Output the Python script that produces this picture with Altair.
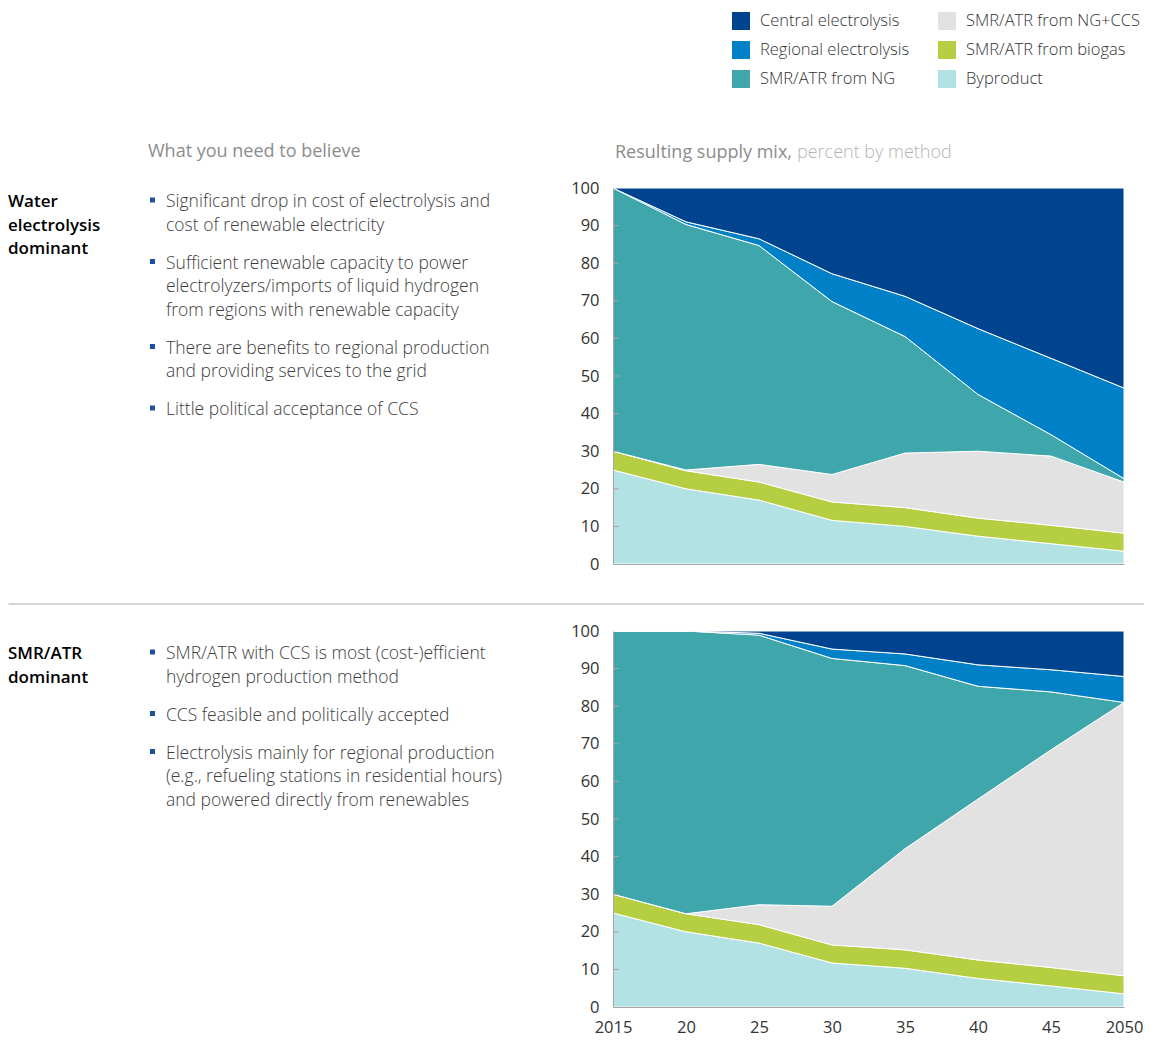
import altair as alt
import pandas as pd

# ---------------- data ----------------
years = [2015, 2020, 2025, 2030, 2035, 2040, 2045, 2050]
x_tick_labels = ["2015", "20", "25", "30", "35", "40", "45", "2050"]
y_ticks = [0, 10, 20, 30, 40, 50, 60, 70, 80, 90, 100]

# legend order (filled column by column, 2 columns)
legend_order = [
    "Central electrolysis", "Regional electrolysis", "SMR/ATR from NG",
    "SMR/ATR from NG+CCS", "SMR/ATR from biogas", "Byproduct",
]
legend_colors = ["#00448F", "#0080C6", "#3FA7AB", "#E2E2E2", "#B6CE42", "#B3E2E4"]
# stacking order, bottom to top
stack_order = [
    "Byproduct", "SMR/ATR from biogas", "SMR/ATR from NG+CCS",
    "SMR/ATR from NG", "Regional electrolysis", "Central electrolysis",
]

# Scenario 1: water electrolysis dominant (percent)
water_byproduct = [25, 20, 17, 11.6, 10, 7.4, 5.4, 3.4]
water_biogas = [5, 4.8, 4.8, 4.9, 5, 4.8, 4.9, 4.8]
water_ngccs = [0, 0.2, 4.7, 7.3, 14.5, 17.8, 18.4, 13.6]
water_ng = [70, 65.3, 58.2, 46, 31, 15.1, 5.7, 0.9]
water_regional = [0, 0.7, 1.8, 7.4, 10.7, 17.5, 20.3, 24.1]
water_central = [0, 9, 13.5, 22.8, 28.8, 37.4, 45.3, 53.2]

# Scenario 2: SMR/ATR dominant (percent)
smr_byproduct = [25, 20, 17, 11.7, 10.3, 7.6, 5.6, 3.5]
smr_biogas = [5, 4.8, 4.9, 4.8, 4.9, 4.9, 4.9, 4.8]
smr_ngccs = [0, 0, 5.3, 10.3, 26.9, 42.8, 57.9, 72.7]
smr_ng = [70, 75.2, 71.7, 65.9, 48.7, 30, 15.4, 0]
smr_regional = [0, 0, 0.5, 2.5, 3.1, 5.7, 5.9, 6.9]
smr_central = [0, 0, 0.6, 4.8, 6.1, 9.0, 10.3, 12.1]

header_left = "What you need to believe"
header_right_main = "Resulting supply mix,"
header_right_sub = "percent by method"

water_label = ["Water", "electrolysis", "dominant"]
water_bullets = [
    ["Significant drop in cost of electrolysis and", "cost of renewable electricity"],
    ["Sufficient renewable capacity to power",
     "electrolyzers/imports of liquid hydrogen",
     "from regions with renewable capacity"],
    ["There are benefits to regional production", "and providing services to the grid"],
    ["Little political acceptance of CCS"],
]
smr_label = ["SMR/ATR", "dominant"]
smr_bullets = [
    ["SMR/ATR with CCS is most (cost-)efficient", "hydrogen production method"],
    ["CCS feasible and politically accepted"],
    ["Electrolysis mainly for regional  production",
     "(e.g., refueling stations in residential hours)",
     "and powered directly from renewables"],
]

# ---------------- style / layout ----------------
FONT = "Open Sans"
PLOT_W, PLOT_H = 511, 376
SPACING = 67
AXIS_GREY = "#a6a6a6"
LINE_H = 23.5
BULLET_GAP = 14.5
TEXT_X = -447
BULLET_X = -460.5
LABEL_X = -605

label_expr = " : ".join(
    f"datum.value == {y} ? '{l}'" for y, l in zip(years, x_tick_labels)
) + " : ''"


def long_df(series):
    rows = []
    for name, vals in series.items():
        for yr, v in zip(years, vals):
            rows.append({"year": yr, "method": name, "share": v,
                         "rank": stack_order.index(name)})
    return pd.DataFrame(rows)


def text_layer(lines, x, y, size=17.5, color="#3d3d3d", weight=300):
    props = dict(align="left", baseline="alphabetic", font=FONT,
                 fontSize=size, fontWeight=weight, color=color)
    if len(lines) > 1:
        props.update(lineBreak="\n", lineHeight=LINE_H)
    return alt.Chart(pd.DataFrame({"t": ["\n".join(lines)]})).mark_text(**props).encode(
        text="t:N", x=alt.value(x), y=alt.value(y)
    )


def y_axis():
    return alt.Axis(values=y_ticks, ticks=False, labelPadding=14, title=None,
                    domainColor=AXIS_GREY, zindex=1, labelFontSize=16.5,
                    labelFont=FONT, labelColor="#333333", grid=False)


def panel(series, label, bullets, top, first_baseline):
    df = long_df(series)
    if top:
        xaxis = alt.Axis(values=years, labels=False, ticks=False, title=None,
                         domainColor=AXIS_GREY, zindex=1, grid=False)
        legend = alt.Legend(orient="none", legendX=119, legendY=-176, columns=2,
                            title=None, symbolType="square", symbolSize=324,
                            symbolStrokeWidth=0, symbolOpacity=1, labelFontSize=16.5,
                            labelFont=FONT, labelFontWeight=300, labelColor="#333333",
                            labelOffset=10, labelLimit=400, rowPadding=11,
                            columnPadding=28, padding=0)
    else:
        xaxis = alt.Axis(values=years, labelExpr=label_expr, labelFlush=False,
                         ticks=False, labelPadding=12, title=None, labelFontSize=16.5,
                         labelFont=FONT, labelColor="#333333", labelOverlap=False,
                         domainColor=AXIS_GREY, zindex=1, grid=False)
        legend = None

    area = alt.Chart(df).mark_area(stroke="white", strokeWidth=1).encode(
        x=alt.X("year:Q", scale=alt.Scale(domain=[2015, 2050], nice=False, zero=False),
                axis=xaxis),
        y=alt.Y("share:Q", stack="zero", scale=alt.Scale(domain=[0, 100], nice=False),
                axis=y_axis()),
        color=alt.Color("method:N", scale=alt.Scale(domain=legend_order, range=legend_colors),
                        legend=legend),
        order=alt.Order("rank:Q", sort="ascending"),
    )
    inner_ticks = alt.Chart(pd.DataFrame({"v": y_ticks[1:-1]})).mark_rule(
        color=AXIS_GREY, strokeWidth=1
    ).encode(y=alt.Y("v:Q", axis=y_axis()), x=alt.value(0), x2=alt.value(6))

    layers = [area, inner_ticks]
    layers.append(text_layer(label, LABEL_X, first_baseline, size=17, color="#000000", weight=600))
    y = first_baseline
    for b in bullets:
        layers.append(text_layer(b, TEXT_X, y))
        layers.append(
            alt.Chart(pd.DataFrame({"b": [0]})).mark_square(size=25, color="#1f4f9e", opacity=1)
            .encode(x=alt.value(BULLET_X), y=alt.value(y - 7))
        )
        y += len(b) * LINE_H + BULLET_GAP

    if top:
        layers.append(text_layer([header_left], -465, -31, size=18, color="#8c8c8c", weight=500))
        layers.append(text_layer([header_right_main], 2, -30, size=18, color="#8c8c8c", weight=500))
        layers.append(text_layer([header_right_sub], 184, -30, size=18, color="#b4b4b4", weight=300))
        layers.append(
            alt.Chart(pd.DataFrame({"s": [0]})).mark_rule(color="#aaaaaa", strokeWidth=1)
            .encode(x=alt.value(-604.5), x2=alt.value(531), y=alt.value(416))
        )
    return alt.layer(*layers).properties(width=PLOT_W, height=PLOT_H)


top_chart = panel({
    "Byproduct": water_byproduct, "SMR/ATR from biogas": water_biogas,
    "SMR/ATR from NG+CCS": water_ngccs, "SMR/ATR from NG": water_ng,
    "Regional electrolysis": water_regional, "Central electrolysis": water_central,
}, water_label, water_bullets, True, 19)

bottom_chart = panel({
    "Byproduct": smr_byproduct, "SMR/ATR from biogas": smr_biogas,
    "SMR/ATR from NG+CCS": smr_ngccs, "SMR/ATR from NG": smr_ng,
    "Regional electrolysis": smr_regional, "Central electrolysis": smr_central,
}, smr_label, smr_bullets, False, 28)

chart = alt.vconcat(top_chart, bottom_chart, spacing=SPACING, bounds="flush").resolve_scale(
    color="independent"
).properties(
    padding={"left": 0, "top": 4, "right": 0, "bottom": 0}
).configure_view(stroke=None).configure_axis(grid=False)

chart.save("out.html", embed_options={"renderer": "svg", "actions": False})
